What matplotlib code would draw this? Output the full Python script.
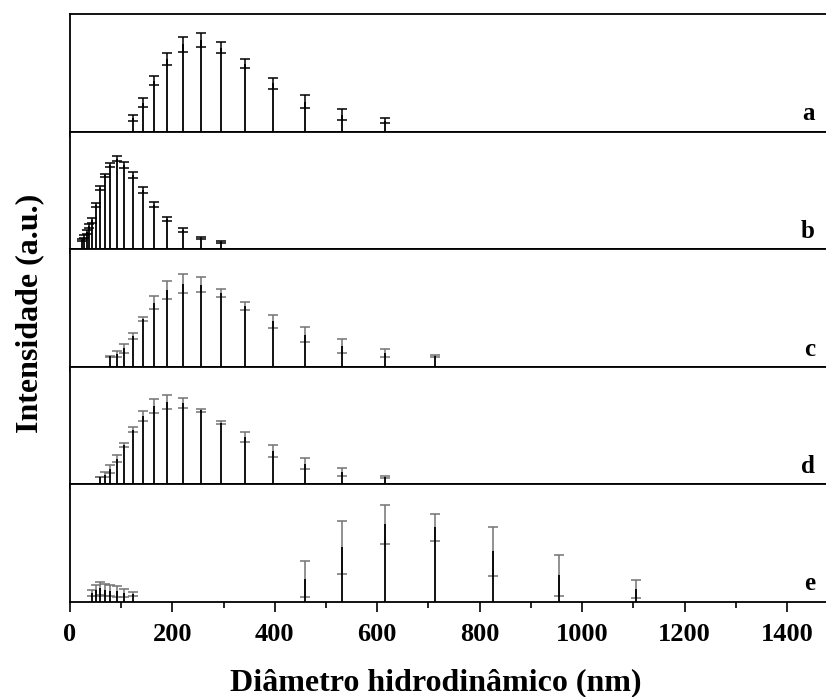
import numpy as np
import matplotlib
matplotlib.use("Agg")
import matplotlib.pyplot as plt
from matplotlib.ticker import MultipleLocator

plt.rcParams['font.family'] = ['Liberation Serif', 'DejaVu Serif']
plt.rcParams['font.weight'] = 'bold'

# distribuicoes de tamanho (DLS) - diametro em nm, intensidade media e desvio
x_a = [122.4, 141.8, 164.2, 190.1, 220.2, 255.0, 295.3, 342.0, 396.1, 458.7, 531.2, 615.1]
y_a = [14.0, 28.7, 51.0, 72.7, 87.4, 91.4, 83.7, 68.0, 48.5, 29.9, 16.9, 10.9]
e_a = [3.0, 4.4, 4.7, 5.7, 7.4, 6.7, 5.4, 4.3, 5.5, 6.2, 5.2, 2.2]

x_b = [24.36, 28.21, 32.67, 37.84, 43.82, 50.75, 58.77, 68.06, 78.82, 91.28,
       105.7, 122.4, 141.8, 164.2, 190.1, 220.2, 255.0, 295.3]
y_b = [9.2, 12.4, 17.0, 23.0, 28.7, 44.0, 61.0, 73.7, 83.9, 90.5,
       84.0, 73.9, 58.9, 44.2, 30.0, 19.0, 10.9, 7.2]
e_b = [0.9, 1.4, 1.7, 1.7, 2.7, 2.3, 2.0, 1.7, 1.9, 2.2,
       3.3, 2.9, 2.9, 2.5, 2.3, 1.7, 1.2, 0.9]

x_c = [78.82, 91.28, 105.7, 122.4, 141.8, 164.2, 190.1, 220.2, 255.0, 295.3,
       342.0, 396.1, 458.7, 531.2, 615.1, 712.4]
y_c = [10.5, 12.7, 18.2, 31.0, 47.7, 64.0, 76.7, 82.8, 81.7, 73.3,
       60.4, 45.4, 31.7, 20.5, 13.5, 11.0]
e_c = [0.5, 2.7, 4.5, 3.0, 2.0, 6.3, 9.0, 9.5, 7.4, 4.0,
       3.7, 6.4, 7.4, 6.8, 3.8, 1.0]

x_d = [58.77, 68.06, 78.82, 91.28, 105.7, 122.4, 141.8, 164.2, 190.1, 220.2,
       255.0, 295.3, 342.0, 396.1, 458.7, 531.2, 615.1]
y_d = [7.0, 9.5, 14.9, 25.4, 39.0, 54.4, 68.0, 77.9, 82.2, 81.0,
       73.7, 61.5, 47.2, 32.9, 20.5, 11.7, 7.3]
e_d = [0.3, 2.2, 4.2, 3.7, 2.0, 2.4, 5.0, 6.9, 6.9, 4.7,
       1.4, 1.8, 4.9, 6.2, 5.8, 4.0, 1.0]

x_e = [43.82, 50.75, 58.77, 68.06, 78.82, 91.28, 105.7, 122.4,
       458.7, 531.2, 615.1, 712.4, 825.0, 955.4, 1106.0]
y_e = [8.6, 11.5, 13.5, 11.9, 10.8, 10.4, 9.0, 7.3,
       23.0, 54.5, 77.5, 74.5, 50.5, 26.5, 13.0]
e_e = [3.1, 5.5, 6.5, 5.9, 5.3, 5.4, 4.0, 1.8,
       18.0, 26.5, 19.5, 13.5, 24.5, 20.5, 9.0]

letras = ['a', 'b', 'c', 'd', 'e']
dados = [(x_a, y_a, e_a), (x_b, y_b, e_b), (x_c, y_c, e_c), (x_d, y_d, e_d), (x_e, y_e, e_e)]
cor_erro = ['k', 'k', '0.45', '0.45', '0.45']

W, H = 826, 697
fig = plt.figure(figsize=(W/100, H/100), dpi=100)

esq = 70/W
larg = 760/W
topo = 14
alt = 117.5

axs = []
for i in range(5):
    y0 = 1 - (topo + alt*(i+1))/H
    ax = fig.add_axes([esq, y0, larg, alt/H])
    x, y, e = dados[i]
    ax.errorbar(x, y, yerr=e, fmt='none', ecolor=cor_erro[i], elinewidth=1.1,
                capsize=3.8, capthick=1.1, zorder=2)
    ax.vlines(x, 0, y, colors='k', linewidth=1.3, zorder=3)
    ax.set_xlim(0, 1484)
    ax.set_ylim(0, alt)
    ax.set_yticks([])
    ax.xaxis.set_major_locator(MultipleLocator(200))
    ax.xaxis.set_minor_locator(MultipleLocator(100))
    for s in ax.spines.values():
        s.set_linewidth(1.3)
    if i < 4:
        ax.tick_params(axis='x', which='major', direction='out', length=3.6, width=1.2, labelbottom=False)
        ax.tick_params(axis='x', which='minor', direction='out', length=2.4, width=1.2)
    else:
        ax.tick_params(axis='x', which='major', direction='out', length=7.2, width=1.2, labelsize=19, pad=8)
        ax.tick_params(axis='x', which='minor', direction='out', length=4.0, width=1.2)
    ax.text(0.98, 11/alt, letras[i], transform=ax.transAxes, ha='right', va='baseline',
            fontsize=18, fontweight='bold')
    axs.append(ax)

fig.text(30/W, 0.55, 'Intensidade (a.u.)', rotation=90, ha='center', va='center',
         fontsize=23, fontweight='bold')
fig.text(435.5/W, 1 - 683/H, 'Diâmetro hidrodinâmico (nm)', ha='center', va='center',
         fontsize=23, fontweight='bold')

fig.savefig('out.png', dpi=100)
